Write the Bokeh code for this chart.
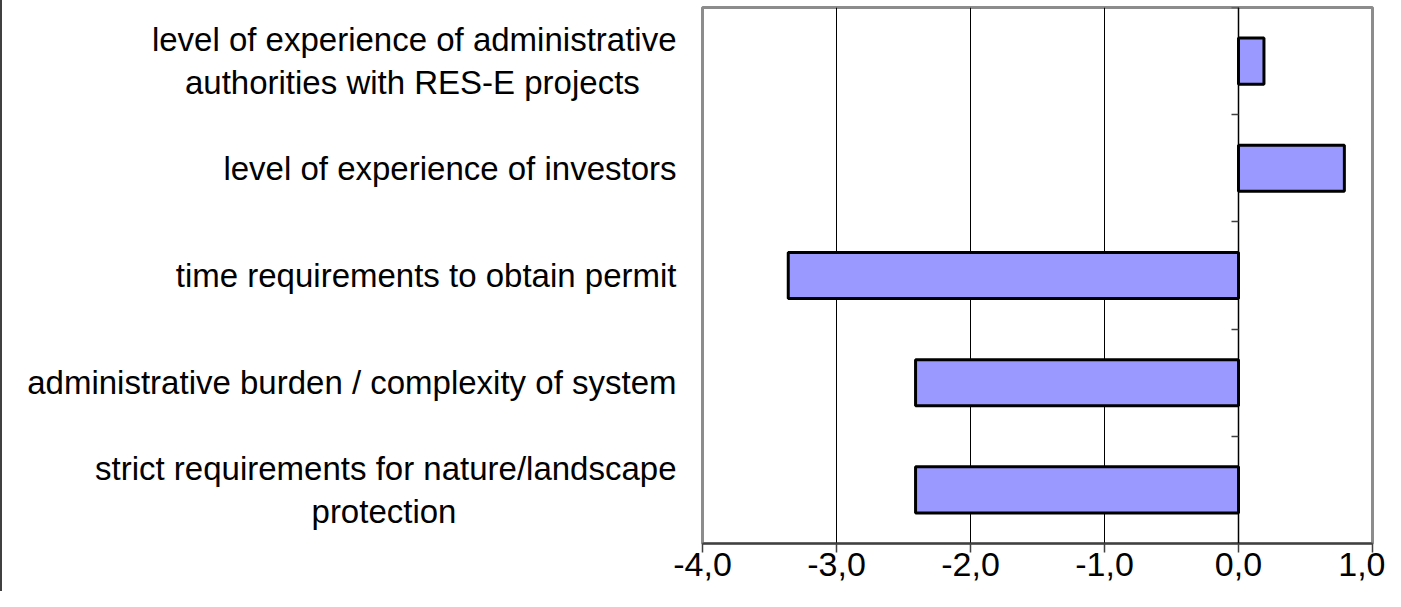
from bokeh.plotting import figure
from bokeh.models import LinearAxis, FixedTicker, ColumnDataSource
from bokeh.embed import file_html
from bokeh.resources import INLINE

# ---- data (top to bottom as in the chart) ----
category_lines = [
    ["level of experience of administrative", "authorities with RES-E projects"],
    ["level of experience of investors"],
    ["time requirements to obtain permit"],
    ["administrative burden / complexity of system"],
    ["strict requirements for nature/landscape", "protection"],
]
values = [0.19, 0.79, -3.36, -2.41, -2.41]
tick_values = [-4, -3, -2, -1, 0, 1]
tick_labels = ["-4,0", "-3,0", "-2,0", "-1,0", "0,0", "1,0"]

FONT = "Liberation Sans"
CAT_SIZE = 33
TICK_SIZE = 34

# Liberation Sans (Arial metrics) advance widths, per 1000 em, used only to
# centre the wrapped second line under the first one
_W = dict(a=556, b=556, c=500, d=556, e=556, f=278, g=556, h=556, i=222, j=222,
          k=500, l=222, m=833, n=556, o=556, p=556, q=556, r=333, s=500, t=278,
          u=556, v=500, w=722, x=500, y=500, z=500, R=722, E=667, S=667)
_W.update({" ": 278, "/": 278, "-": 333})
NBSP = "\u00a0"


def em_width(s):
    return sum(_W.get(ch, 556) for ch in s)


def centred_block(lines):
    widest = max(em_width(l) for l in lines)
    out = []
    for l in lines:
        pad = int(round((widest - em_width(l)) / 2.0 / _W[" "]))
        out.append(l + NBSP * pad)
    return "\n".join(out)


n = len(values)
ypos = [n - 1 - i for i in range(n)]

p = figure(width=1385, height=591, x_range=(-4, 1), y_range=(-0.5, n - 0.5),
           output_backend="svg", toolbar_location=None,
           min_border_left=702, min_border_right=13, min_border_top=7,
           min_border_bottom=48)
p.background_fill_color = "white"
p.border_fill_color = None
p.styles = {"box-shadow": "inset 2px 0 0 0 #404040", "background-color": "white"}
p.outline_line_color = "#8c8c8c"
p.outline_line_width = 3

# vertical gridlines
p.xgrid.ticker = FixedTicker(ticks=tick_values)
p.xgrid.grid_line_color = "black"
p.xgrid.grid_line_width = 1
p.ygrid.grid_line_color = None

# bottom axis
xa = p.xaxis[0]
xa.ticker = FixedTicker(ticks=tick_values)
xa.major_label_overrides = {t: l for t, l in zip(tick_values, tick_labels)}
xa.major_tick_out = 9
xa.major_tick_in = 0
xa.minor_tick_line_color = None
xa.axis_line_color = "#404040"
xa.axis_line_width = 2
xa.major_tick_line_color = "#404040"
xa.major_tick_line_width = 1.5
xa.major_label_text_font = FONT
xa.major_label_text_font_size = f"{TICK_SIZE}px"
xa.major_label_text_color = "black"
xa.major_label_standoff = 0

# category labels on the left axis
ya = p.yaxis[0]
ya.ticker = FixedTicker(ticks=ypos)
ya.major_label_overrides = {y: centred_block(lines) for y, lines in zip(ypos, category_lines)}
ya.axis_line_color = None
ya.major_tick_line_color = None
ya.major_tick_out = 0
ya.major_tick_in = 0
ya.minor_tick_line_color = None
ya.major_label_standoff = 26
ya.major_label_text_font = FONT
ya.major_label_text_font_size = f"{CAT_SIZE}px"
ya.major_label_text_color = "black"
ya.major_label_text_line_height = 1.17

# zero line axis with ticks between categories
za = LinearAxis(fixed_location=0,
                ticker=FixedTicker(ticks=[k - 0.5 for k in range(n + 1)]),
                major_label_overrides={k - 0.5: "" for k in range(n + 1)})
za.axis_line_color = "black"
za.axis_line_width = 1.5
za.major_tick_out = 0
za.major_tick_in = 7
za.major_tick_line_color = "#404040"
za.major_tick_line_width = 1.5
za.minor_tick_line_color = None
za.major_label_standoff = 0
za.major_label_text_color = None
p.add_layout(za, "right")

# bars
src = ColumnDataSource(dict(y=ypos, v=values))
p.hbar(y="y", left=0, right="v", height=0.43, source=src,
       fill_color="#9999FF", line_color="black", line_width=3)

open("out.html", "w").write(file_html(p, INLINE))
